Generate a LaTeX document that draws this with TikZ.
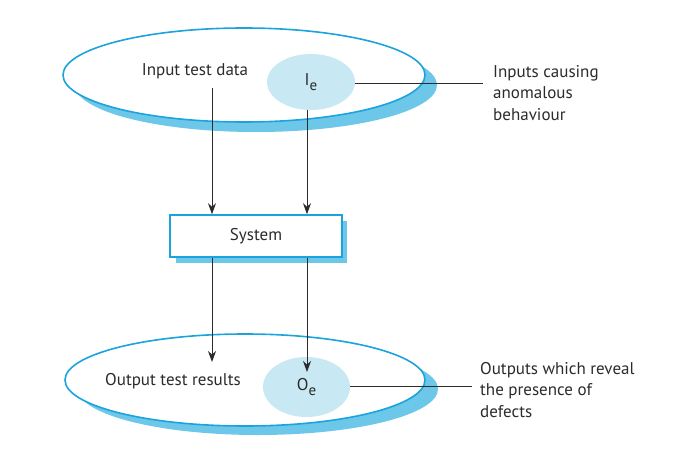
\documentclass[tikz,border=0pt]{standalone}
\usepackage{fontspec}
\setmainfont{PT Sans}
\usetikzlibrary{shapes.geometric,arrows.meta}
\definecolor{cyanline}{HTML}{1BA3DD}
\definecolor{shadowblue}{HTML}{6CC7E8}
\definecolor{palefill}{HTML}{C8E9F3}
\definecolor{txt}{HTML}{2B2B2B}
\newcommand{\subE}{\raisebox{-4.5pt}{\fontsize{15}{15}\selectfont e}}
\tikzset{
  bigell/.style={ellipse,draw=cyanline,line width=1.6pt,fill=white,inner sep=0pt},
  shadowell/.style={ellipse,fill=shadowblue,draw=none,inner sep=0pt},
  smallell/.style={ellipse,fill=palefill,draw=none,inner sep=0pt,minimum width=88pt,minimum height=56pt,font=\fontsize{17}{20}\selectfont,text=txt},
  lbl/.style={font=\fontsize{17}{21.5}\selectfont,text=txt,inner sep=0pt},
  sidelbl/.style={lbl,align=left,anchor=north west},
  arr/.style={draw=txt,line width=0.9pt,-{Stealth[length=11pt,width=8pt]}},
  conn/.style={draw=txt,line width=0.9pt},
  sysbox/.style={draw=cyanline,line width=1.6pt,fill=white,minimum width=172pt,minimum height=42pt,inner sep=0pt,font=\fontsize{17}{20}\selectfont,text=txt}
}
\begin{document}
\begin{tikzpicture}[x=1pt,y=-1pt]
\useasboundingbox (0,0) rectangle (695,468);
% top ellipse
\node[shadowell,minimum width=362pt,minimum height=94pt] (tsh) at (256,85) {};
\node[bigell,minimum width=362pt,minimum height=94pt] (top) at (244,75) {};
\node[lbl] (indata) at (195,71) {Input test data};
\node[smallell] (ie) at (311,82) {I\subE};
% system box
\fill[shadowblue] (176,221) rectangle (347,263);
\node[sysbox] (sys) at (256,236) {System};
% bottom ellipse
\node[shadowell,minimum width=360pt,minimum height=92pt] (bsh) at (258,389) {};
\node[bigell,minimum width=360pt,minimum height=92pt] (bot) at (245,380) {};
\node[lbl] (outres) at (173,381) {Output test results};
\node[smallell,minimum width=87pt,minimum height=60pt] (oe) at (306.5,387) {O\subE};
% side labels
\node[sidelbl] (inlab) at (493,65) {Inputs causing\\anomalous\\behaviour};
\node[sidelbl] (outlab) at (480,362) {Outputs which reveal\\the presence of\\defects};
\coordinate (a1) at (212,88);
\coordinate (a2) at (307,110);
\coordinate (b1) at (212,362);
\coordinate (b2) at (307,372);
\coordinate (ie2) at (483,83);
\coordinate (oe2) at (472,386);
% arrows
\draw[arr] (a1) -- (a1 |- sys.north);
\draw[arr] (a2) -- (a2 |- sys.north);
\draw[arr] (a1 |- sys.south) -- (b1);
\draw[arr] (a2 |- sys.south) -- (b2);
\draw[conn] (ie.east |- ie2) -- (ie2);
\draw[conn] (oe.east |- oe2) -- (oe2);
\end{tikzpicture}
\end{document}
